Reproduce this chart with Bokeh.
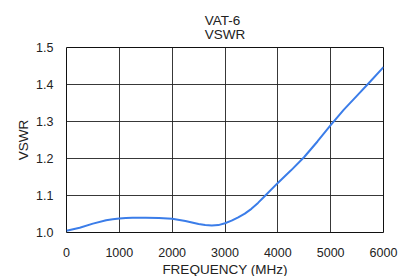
from bokeh.plotting import figure
from bokeh.models import Range1d, Title, FixedTicker, CustomJSTickFormatter
from bokeh.embed import file_html
from bokeh.resources import INLINE

freq_mhz = [0, 125, 250, 500, 750, 875, 1000, 1125, 1250, 1500, 1750, 2000, 2250, 2500, 2625,
            2750, 2875, 3000, 3125, 3250, 3375, 3500, 3625, 3750, 4000, 4250, 4500, 4750,
            5000, 5250, 5500, 5750, 6000]
vswr = [1.005, 1.009, 1.013, 1.024, 1.033, 1.036, 1.038, 1.039, 1.040, 1.040, 1.039, 1.037,
        1.031, 1.023, 1.0205, 1.019, 1.020, 1.025, 1.032, 1.041, 1.051, 1.064, 1.080, 1.098,
        1.134, 1.168, 1.204, 1.246, 1.290, 1.332, 1.370, 1.408, 1.447]
x_ticks = [0, 1000, 2000, 3000, 4000, 5000, 6000]
y_ticks = [1.0, 1.1, 1.2, 1.3, 1.4, 1.5]
title_lines = ["VAT-6", "VSWR"]
x_label = "FREQUENCY (MHz)"
y_label = "VSWR"

FONT = "Liberation Sans"

p = figure(width=398, height=276, output_backend="svg", toolbar_location=None,
           title=None, x_range=Range1d(0, 6000), y_range=Range1d(1.0, 1.5),
           min_border_left=66, min_border_right=15, min_border_top=47, min_border_bottom=43)
p.background_fill_color = "white"
p.border_fill_color = "white"
p.outline_line_color = "#111111"
p.outline_line_width = 1

# two-line title
title = Title(text="\n".join(title_lines), align="center", offset=-12, text_font=FONT,
              text_font_size="13.5px", text_font_style="normal", text_color="#222222",
              standoff=11, text_line_height=0.95)
p.add_layout(title, "above")

p.xaxis.ticker = FixedTicker(ticks=x_ticks)
p.yaxis.ticker = FixedTicker(ticks=y_ticks)
p.yaxis.formatter = CustomJSTickFormatter(code="return tick.toFixed(1);")

for ax in (p.xaxis, p.yaxis):
    ax.axis_line_color = None
    ax.major_tick_line_color = None
    ax.minor_tick_line_color = None
    ax.major_label_text_font = FONT
    ax.major_label_text_font_size = "12.5px"
    ax.major_label_text_color = "#222222"
    ax.axis_label_text_font = FONT
    ax.axis_label_text_font_size = "13.5px"
    ax.axis_label_text_font_style = "normal"
    ax.axis_label_text_color = "#222222"

p.xaxis.major_label_standoff = 9
p.yaxis.major_label_standoff = 7
p.yaxis.axis_label = y_label
p.yaxis.axis_label_standoff = 2

# x-axis label as a title below, shifted right as in the reference
xlab = Title(text=x_label, align="center", offset=8, text_font=FONT,
             text_font_size="13.5px", text_font_style="normal", text_color="#222222",
             standoff=0, text_line_height=1.0)
p.add_layout(xlab, "below")

p.xgrid.ticker = FixedTicker(ticks=x_ticks)
p.ygrid.ticker = FixedTicker(ticks=y_ticks)
for g in (p.xgrid, p.ygrid):
    g.grid_line_color = "#222222"
    g.grid_line_width = 1
    g.grid_line_alpha = 0.9

p.line(freq_mhz, vswr, line_color="#3b7de9", line_width=2)

open("out.html", "w").write(file_html(p, INLINE))
